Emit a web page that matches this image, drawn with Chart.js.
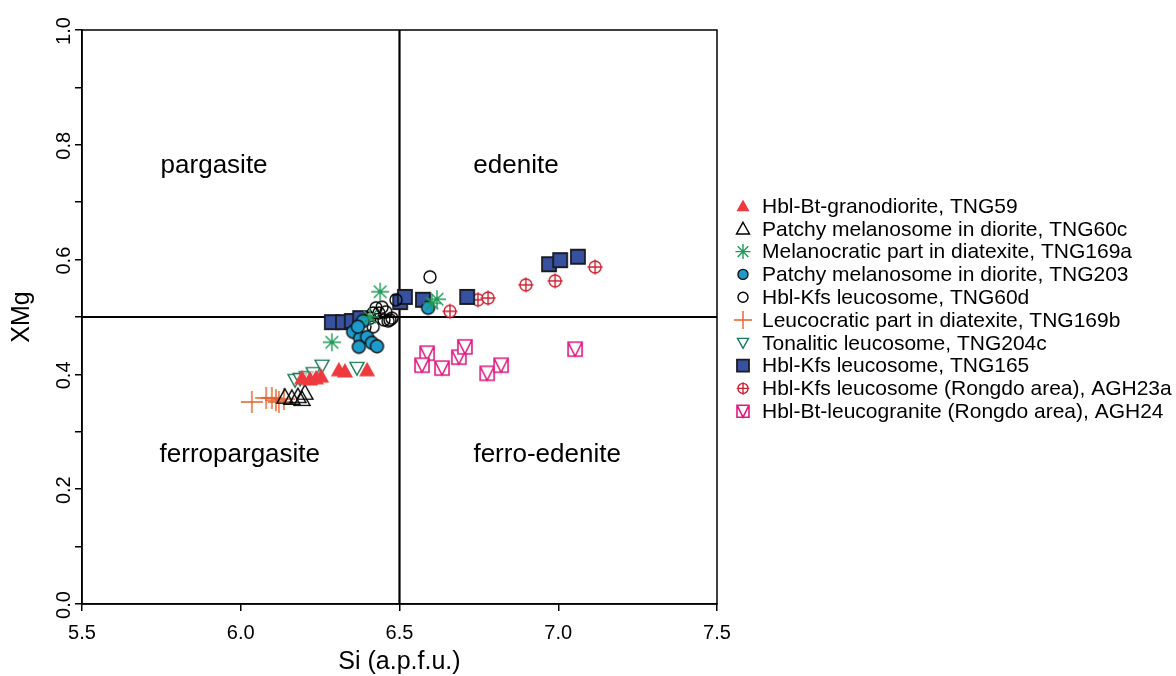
<!DOCTYPE html>
<html>
<head>
<meta charset="utf-8">
<script src="https://cdn.jsdelivr.net/npm/chart.js@4.4.1/dist/chart.umd.min.js"></script>
<style>
  html, body { margin: 0; padding: 0; background: #fff; }
  #wrap { width: 1176px; height: 676px; }
</style>
</head>
<body>
<div id="wrap"><canvas id="chart" width="1176" height="676"></canvas></div>
<script>
// ---- data ----
var yTickLabels = ['0.0', '0.2', '0.4', '0.6', '0.8', '1.0'];
var yTickValues = [0, 0.2, 0.4, 0.6, 0.8, 1.0];

var seriesNames = [
  'Hbl-Bt-granodiorite, TNG59',
  'Patchy melanosome in diorite, TNG60c',
  'Melanocratic part in diatexite, TNG169a',
  'Patchy melanosome in diorite, TNG203',
  'Hbl-Kfs leucosome, TNG60d',
  'Leucocratic part in diatexite, TNG169b',
  'Tonalitic leucosome, TNG204c',
  'Hbl-Kfs leucosome, TNG165',
  'Hbl-Kfs leucosome (Rongdo area), AGH23a',
  'Hbl-Bt-leucogranite (Rongdo area), AGH24'
];

var tng59_si  = [6.193, 6.218, 6.237, 6.253, 6.309, 6.328, 6.398];
var tng59_xmg = [0.394, 0.392, 0.394, 0.397, 0.408, 0.406, 0.408];

var tng60c_si  = [6.139, 6.161, 6.180, 6.193, 6.202];
var tng60c_xmg = [0.361, 0.359, 0.362, 0.357, 0.368];

var tng169a_si  = [6.287, 6.439, 6.407, 6.618, 6.602];
var tng169a_xmg = [0.456, 0.544, 0.500, 0.531, 0.524];

var tng203_si  = [6.385, 6.354, 6.376, 6.398, 6.413, 6.429, 6.372, 6.369, 6.590];
var tng203_xmg = [0.493, 0.474, 0.463, 0.465, 0.455, 0.449, 0.448, 0.483, 0.516];

var tng60d_si  = [6.596, 6.489, 6.426, 6.445, 6.457, 6.417, 6.435, 6.391, 6.417, 6.451, 6.464, 6.470, 6.476, 6.407];
var tng60d_xmg = [0.570, 0.530, 0.516, 0.517, 0.509, 0.507, 0.507, 0.483, 0.483, 0.495, 0.493, 0.495, 0.498, 0.498];

var tng169b_si  = [6.035, 6.080, 6.098, 6.111, 6.120, 6.136];
var tng169b_xmg = [0.352, 0.359, 0.359, 0.355, 0.352, 0.357];

var tng204c_si  = [6.171, 6.187, 6.206, 6.228, 6.256, 6.366];
var tng204c_xmg = [0.390, 0.392, 0.395, 0.402, 0.415, 0.411];

var tng165_si  = [6.287, 6.322, 6.350, 6.376, 6.502, 6.517, 6.574, 6.713, 6.971, 7.006, 7.062];
var tng165_xmg = [0.491, 0.491, 0.493, 0.498, 0.526, 0.535, 0.530, 0.535, 0.592, 0.599, 0.605];

var agh23a_si  = [6.659, 6.747, 6.779, 6.898, 6.990, 7.116];
var agh23a_xmg = [0.510, 0.530, 0.533, 0.556, 0.563, 0.587];

var agh24_si  = [6.587, 6.571, 6.634, 6.687, 6.706, 6.776, 6.820, 7.053];
var agh24_xmg = [0.437, 0.416, 0.411, 0.430, 0.448, 0.402, 0.416, 0.444];

// field names and where they sit (data units)
var fieldNames = ['pargasite', 'edenite', 'ferropargasite', 'ferro-edenite'];
var fieldSi    = [5.916, 6.867, 5.997, 6.965];
var fieldXmg   = [0.764, 0.764, 0.26, 0.26];

var FONT = '"Liberation Sans", Arial, Helvetica, sans-serif';

// ---- marker drawing ----
function drawMarker(ctx, type, x, y, s) {
  ctx.save();
  ctx.lineWidth = 1.4;
  ctx.beginPath();
  switch (type) {
    case 'triFill':
      ctx.moveTo(x, y - s); ctx.lineTo(x + s, y + 0.8 * s); ctx.lineTo(x - s, y + 0.8 * s); ctx.closePath();
      ctx.fillStyle = '#ee3a3e'; ctx.fill();
      break;
    case 'triOpen':
      ctx.moveTo(x, y - s); ctx.lineTo(x + s, y + 0.8 * s); ctx.lineTo(x - s, y + 0.8 * s); ctx.closePath();
      ctx.strokeStyle = '#000'; ctx.stroke();
      break;
    case 'star':
      for (var i = 0; i < 4; i++) {
        var a = i * Math.PI / 4;
        ctx.moveTo(x + Math.cos(a) * s, y + Math.sin(a) * s);
        ctx.lineTo(x - Math.cos(a) * s, y - Math.sin(a) * s);
      }
      ctx.strokeStyle = '#1f9a58'; ctx.stroke();
      break;
    case 'dotBlue':
      ctx.arc(x, y, s, 0, Math.PI * 2);
      ctx.fillStyle = '#1d9bcc'; ctx.fill();
      ctx.strokeStyle = '#111'; ctx.stroke();
      break;
    case 'circOpen':
      ctx.arc(x, y, s, 0, Math.PI * 2);
      ctx.strokeStyle = '#000'; ctx.stroke();
      break;
    case 'plus':
      ctx.moveTo(x - s, y); ctx.lineTo(x + s, y);
      ctx.moveTo(x, y - s); ctx.lineTo(x, y + s);
      ctx.strokeStyle = '#e5602a'; ctx.stroke();
      break;
    case 'triDown':
      ctx.moveTo(x - s, y - 0.8 * s); ctx.lineTo(x + s, y - 0.8 * s); ctx.lineTo(x, y + s); ctx.closePath();
      ctx.fillStyle = 'rgba(255,255,255,0.6)'; ctx.fill();
      ctx.strokeStyle = '#167a55'; ctx.stroke();
      break;
    case 'square':
      ctx.rect(x - s, y - s, 2 * s, 2 * s);
      ctx.fillStyle = '#36519f'; ctx.fill();
      ctx.lineWidth = 1.8; ctx.strokeStyle = '#1b1b24'; ctx.stroke();
      break;
    case 'circPlus':
      ctx.arc(x, y, s, 0, Math.PI * 2);
      ctx.moveTo(x - s * 1.25, y); ctx.lineTo(x + s * 1.25, y);
      ctx.moveTo(x, y - s * 1.25); ctx.lineTo(x, y + s * 1.25);
      ctx.fillStyle = '#fff'; ctx.fill();
      ctx.strokeStyle = '#cc2131'; ctx.stroke();
      break;
    case 'sqTri':
      ctx.rect(x - s, y - s, 2 * s, 2 * s);
      ctx.fillStyle = '#fff'; ctx.fill();
      ctx.moveTo(x - s, y - s); ctx.lineTo(x, y + s); ctx.lineTo(x + s, y - s);
      ctx.strokeStyle = '#e0197f'; ctx.lineWidth = 1.6; ctx.stroke();
      break;
  }
  ctx.restore();
}

function markerCanvas(type, s) {
  var c = document.createElement('canvas');
  var d = Math.ceil(2 * s + 6);
  c.width = d; c.height = d;
  drawMarker(c.getContext('2d'), type, d / 2, d / 2, s);
  return c;
}

var markerTypes = ['triFill', 'triOpen', 'star', 'dotBlue', 'circOpen', 'plus', 'triDown', 'square', 'circPlus', 'sqTri'];
var plotSizes   = [8, 8, 9, 6.5, 6, 11, 7, 7, 6, 7];
var legendSizes = [6.5, 6.5, 7.5, 5, 5, 9, 5.5, 6, 5, 6];

function pts(xs, ys) {
  return xs.map(function(v, i) { return { x: v, y: ys[i] }; });
}

var allSi  = [tng59_si, tng60c_si, tng169a_si, tng203_si, tng60d_si, tng169b_si, tng204c_si, tng165_si, agh23a_si, agh24_si];
var allXmg = [tng59_xmg, tng60c_xmg, tng169a_xmg, tng203_xmg, tng60d_xmg, tng169b_xmg, tng204c_xmg, tng165_xmg, agh23a_xmg, agh24_xmg];

var datasets = seriesNames.map(function(name, i) {
  return {
    label: name,
    data: pts(allSi[i], allXmg[i]),
    pointStyle: markerCanvas(markerTypes[i], plotSizes[i]),
    pointRadius: 8,
    order: i
  };
});

// lines, frame, rotated y labels, titles and legend
var overlay = {
  id: 'overlay',
  beforeDatasetsDraw: function(chart) {
    var ctx = chart.ctx, a = chart.chartArea;
    var xs = chart.scales.x, ys = chart.scales.y;
    ctx.save();
    ctx.strokeStyle = '#000';
    ctx.lineWidth = 1.5;
    ctx.strokeRect(a.left, a.top, a.right - a.left, a.bottom - a.top);
    ctx.lineWidth = 2.2;
    ctx.beginPath();
    var px = xs.getPixelForValue(6.5);
    ctx.moveTo(px, a.top); ctx.lineTo(px, a.bottom);
    var py = ys.getPixelForValue(0.5);
    ctx.moveTo(a.left, py); ctx.lineTo(a.right, py);
    ctx.stroke();
    ctx.restore();
  },
  afterDraw: function(chart) {
    var ctx = chart.ctx, a = chart.chartArea;
    var xs = chart.scales.x, ys = chart.scales.y;
    ctx.save();
    ctx.fillStyle = '#000';
    ctx.textAlign = 'center';
    ctx.textBaseline = 'middle';

    ctx.font = '26px ' + FONT;
    fieldNames.forEach(function(t, i) {
      ctx.fillText(t, xs.getPixelForValue(fieldSi[i]), ys.getPixelForValue(fieldXmg[i]));
    });

    ctx.font = '20px ' + FONT;
    yTickValues.forEach(function(v, i) {
      ctx.save();
      ctx.translate(64, ys.getPixelForValue(v) + 1);
      ctx.rotate(-Math.PI / 2);
      ctx.fillText(yTickLabels[i], 0, 0);
      ctx.restore();
    });

    ctx.font = '25px ' + FONT;
    ctx.fillText('Si (a.p.f.u.)', (a.left + a.right) / 2, 662);
    ctx.save();
    ctx.translate(22, (a.top + a.bottom) / 2);
    ctx.rotate(-Math.PI / 2);
    ctx.fillText('XMg', 0, 0);
    ctx.restore();

    ctx.textAlign = 'left';
    ctx.font = '21px ' + FONT;
    seriesNames.forEach(function(name, i) {
      var y = 206 + i * 22.8;
      drawMarker(ctx, markerTypes[i], 743, y, legendSizes[i]);
      ctx.fillStyle = '#000';
      ctx.fillText(name, 762, y + 1);
    });
    ctx.restore();
  }
};

new Chart(document.getElementById('chart'), {
  type: 'scatter',
  data: { datasets: datasets },
  options: {
    responsive: false,
    devicePixelRatio: 1,
    animation: false,
    layout: { padding: { top: 30, right: 459, left: 0, bottom: 0 } },
    plugins: { legend: { display: false }, tooltip: { enabled: false } },
    scales: {
      x: {
        type: 'linear', min: 5.5, max: 7.5,
        ticks: {
          stepSize: 0.5, color: '#000', padding: 10, maxRotation: 0,
          font: { family: FONT, size: 20 },
          callback: function(v) { return v.toFixed(1); }
        },
        grid: { drawOnChartArea: false, tickLength: 7, color: '#000', lineWidth: 1.5 },
        border: { color: '#000', width: 1.5 },
        afterFit: function(s) { s.height = 72; }
      },
      y: {
        type: 'linear', min: 0, max: 1,
        ticks: {
          stepSize: 0.1, autoSkip: false, color: '#000',
          callback: function() { return ''; }
        },
        grid: { drawOnChartArea: false, tickLength: 7, color: '#000', lineWidth: 1.5 },
        border: { color: '#000', width: 1.5 },
        afterFit: function(s) { s.width = 82; }
      }
    }
  },
  plugins: [overlay]
});
</script>
</body>
</html>
